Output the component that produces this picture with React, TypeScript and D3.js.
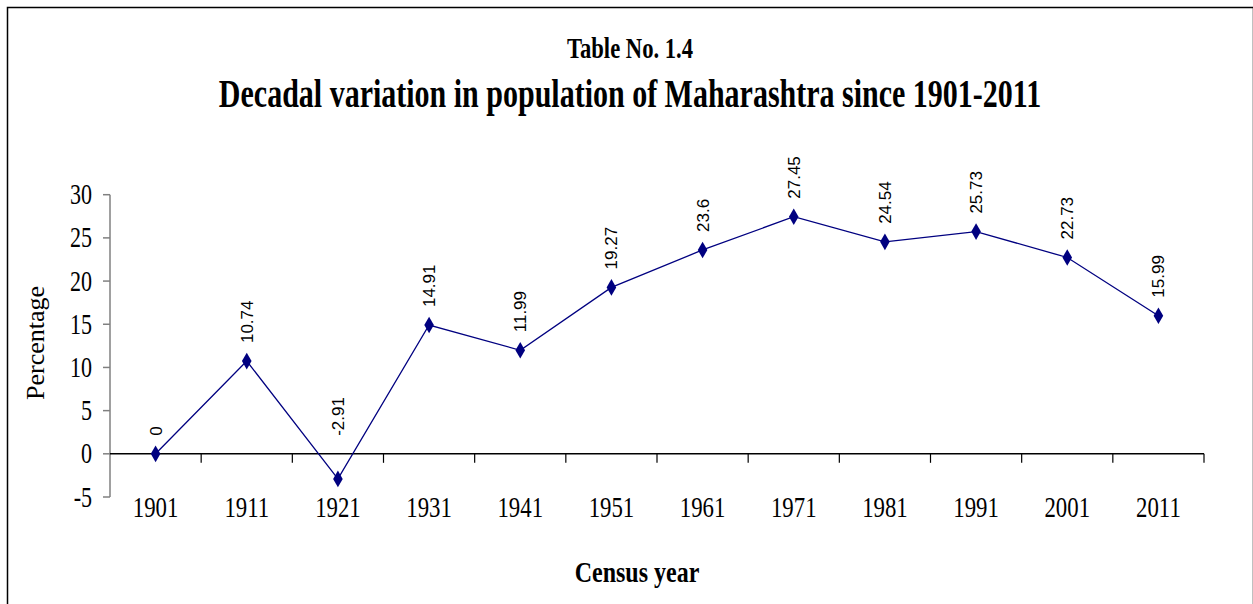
import React from "react";
import * as d3 from "d3";

// census years and decadal variation (%)
const years = ["1901", "1911", "1921", "1931", "1941", "1951", "1961", "1971", "1981", "1991", "2001", "2011"];
const variation = [0, 10.74, -2.91, 14.91, 11.99, 19.27, 23.6, 27.45, 24.54, 25.73, 22.73, 15.99];
const yTicks = [-5, 0, 5, 10, 15, 20, 25, 30];

const W = 1253;
const H = 604;
const SX = 0.76; // the picture is squeezed horizontally
const serif = "'Liberation Serif', 'Times New Roman', serif";
const sans = "'Liberation Sans', Arial, sans-serif";
const navy = "#000080";

const left = 110;
const right = 1204;
const top = 194.7;
const bottom = 497;

export default function App() {
  const x = d3.scaleBand().domain(years).range([left, right]);
  const y = d3.scaleLinear().domain([-5, 30]).range([bottom, top]);
  const cx = (d: string) => (x(d) as number) + x.bandwidth() / 2;

  const line = d3.line<number>()
    .x((_, i) => cx(years[i]))
    .y(d => y(d));

  const diamond = d3.symbol().type(d3.symbolDiamond).size(80)();
  const y0 = y(0);

  return (
    <svg width={W} height={H} style={{ position: "absolute", left: 0, top: 0, background: "#fff" }}>
      <rect x={7.5} y={7.5} width={1246} height={620} fill="none" stroke="#000" strokeWidth={1.5} />

      <text transform={`translate(630,58) scale(0.78,1)`} textAnchor="middle" fontFamily={serif} fontWeight="bold" fontSize={29}>
        Table No. 1.4
      </text>
      <text transform={`translate(630,107) scale(0.75,1)`} textAnchor="middle" fontFamily={serif} fontWeight="bold" fontSize={40}>
        Decadal variation in population of Maharashtra since 1901-2011
      </text>

      {/* y axis */}
      <line x1={left} x2={left} y1={top} y2={bottom} stroke="#808080" strokeWidth={1.5} />
      {yTicks.map(t => (
        <g key={t}>
          <line x1={left - 7} x2={left} y1={y(t)} y2={y(t)} stroke="#808080" strokeWidth={1.5} />
          <text transform={`translate(92,${y(t) + 9.5}) scale(${SX},1)`} textAnchor="end" fontFamily={serif} fontSize={29}>
            {t}
          </text>
        </g>
      ))}

      {/* x axis at zero */}
      <line x1={left} x2={right} y1={y0} y2={y0} stroke="#000" strokeWidth={1.5} />
      {years.map(d => (
        <line key={"t" + d} x1={(x(d) as number) + x.bandwidth()} x2={(x(d) as number) + x.bandwidth()} y1={y0} y2={y0 + 9} stroke="#000" strokeWidth={1.2} />
      ))}
      {years.map(d => (
        <text key={"l" + d} transform={`translate(${cx(d)},517) scale(${SX},1)`} textAnchor="middle" fontFamily={serif} fontSize={30}>
          {d}
        </text>
      ))}

      <path d={line(variation) as string} fill="none" stroke={navy} strokeWidth={1.3} />
      {variation.map((v, i) => (
        <path key={"p" + i} d={diamond as string} transform={`translate(${cx(years[i])},${y(v)})`} fill={navy} />
      ))}
      {variation.map((v, i) => (
        <text key={"v" + i} transform={`translate(${cx(years[i]) + 6},${Math.min(y(v), y0) - 18}) rotate(-90)`} fontFamily={sans} fontSize={17}>
          {String(v)}
        </text>
      ))}

      <text transform={`translate(44,343) rotate(-90)`} textAnchor="middle" fontFamily={serif} fontSize={26}>
        Percentage
      </text>
      <text transform={`translate(637,582) scale(0.8,1)`} textAnchor="middle" fontFamily={serif} fontWeight="bold" fontSize={30}>
        Census year
      </text>
    </svg>
  );
}
